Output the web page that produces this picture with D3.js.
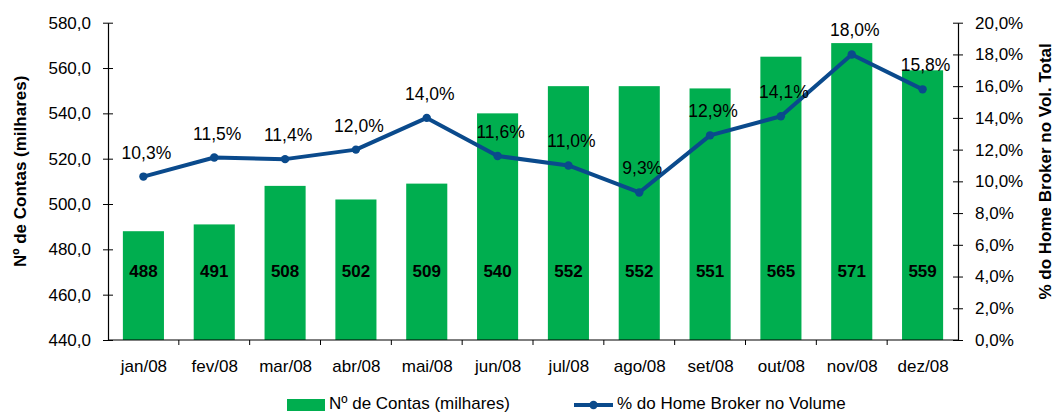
<!DOCTYPE html>
<html><head><meta charset="utf-8">
<script src="https://cdn.jsdelivr.net/npm/d3@7"></script>
<style>
html,body{margin:0;padding:0;background:#fff;}
svg{display:block;font-family:"Liberation Sans",Arial,sans-serif;}
</style></head>
<body>
<svg id="c" width="1055" height="413"></svg>
<script>
const categories = ["jan/08","fev/08","mar/08","abr/08","mai/08","jun/08","jul/08","ago/08","set/08","out/08","nov/08","dez/08"];
const contas = [488,491,508,502,509,540,552,552,551,565,571,559];
const percHB = [10.3,11.5,11.4,12.0,14.0,11.6,11.0,9.3,12.9,14.1,18.0,15.8];
const leftTicks = [440,460,480,500,520,540,560,580];
const rightTicks = [0,2,4,6,8,10,12,14,16,18,20];
const seriesNames = ["Nº de Contas (milhares)","% do Home Broker no Volume"];
const axisTitles = ["Nº de Contas (milhares)","% do Home Broker no Vol. Total"];

const svg = d3.select("#c");
const L = 108, R = 958, T = 22.7, B = 340;
const fmt1 = v => d3.format(".1f")(v).replace(".", ",");

const x = d3.scaleBand().domain(categories).range([L, R]).paddingInner(0.42).paddingOuter(0.21);
const xc = d3.scalePoint().domain(categories).range([L, R]).padding(0.5);
const yL = d3.scaleLinear().domain([440,580]).range([B, T]);
const yR = d3.scaleLinear().domain([0,20]).range([B, T]);

const green = "#00AE4F", blue = "#0A4A8C";

// bars
svg.append("g").selectAll("rect").data(contas).join("rect")
  .attr("x", (d,i) => x(categories[i]))
  .attr("width", x.bandwidth())
  .attr("y", d => yL(d))
  .attr("height", d => B - yL(d))
  .attr("fill", green);

// bar labels
svg.append("g").selectAll("text").data(contas).join("text")
  .attr("x", (d,i) => xc(categories[i]))
  .attr("y", 277)
  .attr("text-anchor","middle")
  .attr("font-weight","bold")
  .attr("font-size", 17)
  .attr("fill","#000")
  .text(d => d);

// axes
const axisStyle = g => {
  g.selectAll("path").attr("stroke","#000").attr("stroke-width",1.2);
  g.selectAll("line").attr("stroke","#000");
  g.selectAll("text").attr("font-size",17).attr("fill","#000").attr("font-family","Liberation Sans, Arial, sans-serif");
};
const gl = svg.append("g").attr("transform",`translate(${L},0)`)
  .call(d3.axisLeft(yL).tickValues(leftTicks).tickFormat(fmt1).tickSizeInner(5).tickSizeOuter(0).tickPadding(12));
gl.selectAll(".tick line").attr("x2", 5).attr("x1",-5);
axisStyle(gl);

const gr = svg.append("g").attr("transform",`translate(${R},0)`)
  .call(d3.axisRight(yR).tickValues(rightTicks).tickFormat(v => fmt1(v) + "%").tickSizeInner(5).tickSizeOuter(0).tickPadding(12));
gr.selectAll(".tick line").attr("x1", -5).attr("x2",5);
axisStyle(gr);

// x axis
const gx = svg.append("g").attr("transform",`translate(0,${B})`)
  .call(d3.axisBottom(xc).tickSize(0).tickPadding(20));
gx.select(".domain").remove();
axisStyle(gx);
svg.append("line").attr("x1",L).attr("x2",R).attr("y1",B).attr("y2",B).attr("stroke","#000").attr("stroke-width",1.2);
const step = (R - L) / categories.length;
svg.append("g").selectAll("line").data(d3.range(1, categories.length)).join("line")
  .attr("x1", i => L + i*step).attr("x2", i => L + i*step)
  .attr("y1", B).attr("y2", B+5).attr("stroke","#000");

// line
const line = d3.line().x((d,i) => xc(categories[i])).y(d => yR(d));
svg.append("path").datum(percHB).attr("d", line)
  .attr("fill","none").attr("stroke", blue).attr("stroke-width",4).attr("stroke-linejoin","round");
svg.append("g").selectAll("circle").data(percHB).join("circle")
  .attr("cx",(d,i)=>xc(categories[i])).attr("cy", d=>yR(d)).attr("r",4.2).attr("fill",blue);
svg.append("g").selectAll("text").data(percHB).join("text")
  .attr("x",(d,i)=>xc(categories[i]) + 3)
  .attr("y", d => yR(d) - 18)
  .attr("text-anchor","middle").attr("font-size",17.5).attr("fill","#000")
  .text(d => fmt1(d) + "%");

// axis titles
svg.append("text").attr("transform",`translate(26,${(T+B)/2 - 10}) rotate(-90)`)
  .attr("text-anchor","middle").attr("font-weight","bold").attr("font-size",17).text(axisTitles[0]);
svg.append("text").attr("transform",`translate(1051,${(T+B)/2 - 10}) rotate(-90)`)
  .attr("text-anchor","middle").attr("font-weight","bold").attr("font-size",17).text(axisTitles[1]);

// legend
const lg = svg.append("g");
lg.append("rect").attr("x",287).attr("y",399).attr("width",38).attr("height",12).attr("fill",green);
lg.append("text").attr("x",329).attr("y",409).attr("font-size",17).text(seriesNames[0]);
lg.append("line").attr("x1",574).attr("x2",613).attr("y1",405).attr("y2",405).attr("stroke",blue).attr("stroke-width",4);
lg.append("circle").attr("cx",593.5).attr("cy",405).attr("r",4.2).attr("fill",blue);
lg.append("text").attr("x",617).attr("y",409).attr("font-size",17).text(seriesNames[1]);
</script>
</body></html>
